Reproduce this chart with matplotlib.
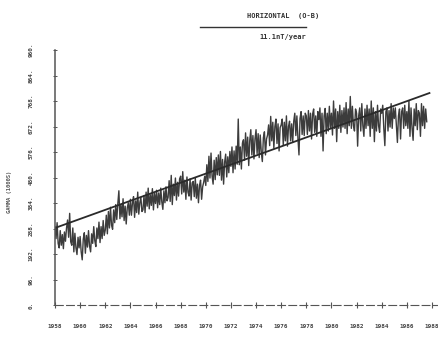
import numpy as np
import matplotlib
matplotlib.use("Agg")
import matplotlib.pyplot as plt

# observed horizontal field, monthly readings from 1958.0
start_year = 1958.0
step = 1 / 12
values = [
    295, 250, 310, 232, 215, 280, 225, 265, 212, 275, 240, 290,
    320, 255, 345, 238, 225, 290, 200, 270, 215, 190, 255, 215,
    258, 200, 170, 248, 272, 195, 262, 218, 280, 222, 200, 268,
    232, 295, 242, 220, 290, 250, 312, 235, 295, 250, 318, 262,
    282, 338, 268, 352, 290, 368, 300, 285, 358, 310, 378, 322,
    382, 430, 325, 378, 332, 400, 318, 372, 305, 365, 385, 338,
    398, 338, 385, 408, 330, 392, 348, 425, 342, 385, 405, 352,
    358, 412, 348, 425, 372, 440, 362, 415, 375, 438, 358, 420,
    382, 432, 366, 422, 378, 440, 388, 360, 430, 385, 445, 392,
    405, 468, 390, 488, 378, 455, 412, 478, 395, 462, 410, 475,
    485, 418, 502, 425, 470, 398, 482, 425, 410, 475, 395, 460,
    465, 408, 478, 402, 455, 385, 450, 470, 398, 445, 462, 485,
    450, 528, 465, 560, 478, 572, 485, 455, 545, 472, 555, 490,
    565, 488, 578, 470, 548, 455, 538, 568, 482, 558, 498, 578,
    522, 595, 498, 580, 512, 598, 530, 700, 528, 595, 512, 610,
    622, 545, 648, 560, 632, 525, 620, 660, 565, 638, 550, 625,
    660, 570, 645, 555, 640, 575, 540, 630, 652, 565, 625, 640,
    678, 600, 710, 618, 688, 590, 672, 700, 608, 682, 580, 668,
    678, 700, 602, 688, 618, 712, 598, 672, 692, 618, 682, 612,
    692, 722, 638, 712, 628, 565, 702, 728, 642, 712, 638, 722,
    712, 642, 732, 655, 722, 625, 718, 738, 650, 712, 635, 728,
    698, 742, 635, 722, 580, 712, 740, 645, 722, 655, 748, 668,
    722, 640, 768, 665, 738, 615, 728, 665, 752, 650, 732, 670,
    742, 665, 762, 645, 738, 675, 785, 665, 748, 675, 655, 738,
    722, 598, 712, 742, 655, 758, 675, 635, 738, 665, 752, 675,
    738, 635, 768, 665, 742, 615, 728, 655, 752, 675, 650, 738,
    722, 752, 665, 600, 728, 742, 655, 732, 670, 758, 665, 742,
    702, 742, 675, 612, 712, 738, 625, 728, 742, 665, 752, 675,
    728, 665, 768, 635, 742, 665, 620, 738, 675, 758, 660, 732,
    722, 635, 758, 675, 748, 665, 738, 690,
]
trend_years = [1958.0, 1987.8]
trend_values = [290, 798]

year_ticks = [1958, 1960, 1962, 1964, 1966, 1968, 1970, 1972, 1974, 1976,
              1978, 1980, 1982, 1984, 1986, 1988]
gamma_ticks = [0, 96, 192, 288, 384, 480, 576, 672, 768, 864, 960]

years = start_year + step * np.arange(len(values))

fig = plt.figure(figsize=(4.38, 3.42), dpi=100)
ax = fig.add_axes([55 / 438, 37 / 342, 383 / 438, 255 / 342])
ax.set_xlim(1958, 1988.48)
ax.set_ylim(0, 960)

ink = "#3c3c3c"
ax.plot(years, values, color=ink, lw=1.0)
ax.plot(trend_years, trend_values, color="#2a2a2a", lw=1.3)

for s in ["top", "right"]:
    ax.spines[s].set_visible(False)
ax.spines["left"].set_color("#555555")
ax.spines["left"].set_linewidth(1.1)
ax.spines["bottom"].set_color("#555555")
ax.spines["bottom"].set_linewidth(0.8)
ax.spines["bottom"].set_linestyle((0, (7, 3)))

mono = "DejaVu Sans Mono"
ax.set_xticks(year_ticks)
ax.set_xticklabels([str(y) for y in year_ticks], fontsize=4.3, family=mono,
                   weight="bold", color="#444444")
ax.set_yticks(gamma_ticks)
ax.set_yticklabels([f"{v}." for v in gamma_ticks], fontsize=4.3, family=mono,
                   weight="bold", color="#444444", rotation=90, va="center")
ax.tick_params(axis="x", direction="inout", length=4, width=0.8,
               color="#555555", pad=12)
ax.tick_params(axis="y", direction="inout", length=3, width=0.7,
               color="#555555", pad=14)

fig.text(10 / 438, 1 - 192 / 342, "GAMMA (1000S)", rotation=90, fontsize=4,
         family=mono, weight="bold", color="#555555", ha="center", va="center")

fig.text(283 / 438, 1 - 16 / 342, "HORIZONTAL  (O-B)", fontsize=5, family=mono,
         weight="bold", color="#333333", ha="center", va="center")
fig.add_artist(plt.Line2D([200 / 438, 306 / 438], [1 - 27 / 342, 1 - 27 / 342],
                          color="#333333", lw=1.0, transform=fig.transFigure))
fig.text(283 / 438, 1 - 37 / 342, "11.1nT/year", fontsize=5, family=mono,
         weight="bold", color="#333333", ha="center", va="center")

fig.savefig("out.png", dpi=100)
